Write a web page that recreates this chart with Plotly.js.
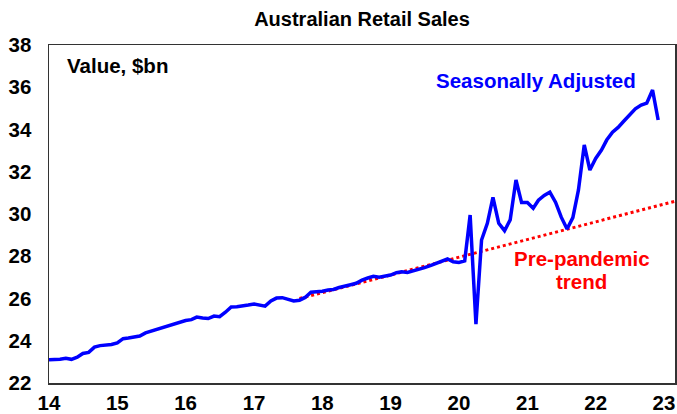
<!DOCTYPE html>
<html>
<head>
<meta charset="utf-8">
<script src="https://cdn.plot.ly/plotly-3.0.1.min.js"></script>
<style>
  html, body { margin: 0; padding: 0; background: #fff; }
  #chart { width: 677px; height: 414px; }
</style>
</head>
<body>
<div id="chart"></div>
<script>
// Monthly retail turnover, seasonally adjusted ($bn), Jan 2014 – Dec 2022
const startYear = 2014;
const salesSA = [
  23.1, 23.1, 23.12, 23.17, 23.12, 23.22, 23.4, 23.45, 23.7, 23.77, 23.78, 23.82,
  23.9, 24.1, 24.13, 24.16, 24.22, 24.37, 24.45, 24.56, 24.62, 24.72, 24.8, 24.9,
  24.96, 25.0, 25.12, 25.08, 25.05, 25.17, 25.14, 25.35, 25.6, 25.61, 25.64, 25.69,
  25.74, 25.67, 25.64, 25.88, 26.02, 26.04, 25.98, 25.88, 25.92, 26.05, 26.3, 26.31,
  26.34, 26.4, 26.43, 26.52, 26.6, 26.65, 26.72, 26.87, 26.97, 27.05, 27.01, 27.04,
  27.11, 27.22, 27.27, 27.23, 27.3, 27.38, 27.46, 27.56, 27.67, 27.75, 27.87, 27.74,
  27.71, 27.78, 29.95, 24.79, 28.77, 29.56, 30.79, 29.56, 29.21, 29.72, 31.61, 30.54,
  30.54, 30.27, 30.65, 30.88, 31.03, 30.55, 29.85, 29.29, 29.83, 31.14, 33.27, 32.08,
  32.63, 33.03, 33.5, 33.87, 34.1, 34.4, 34.7, 34.98, 35.16, 35.25, 35.87, 34.45
];
// Pre-pandemic trend line (end points)
const trendDates = ['2017-09-01', '2023-03-01'];
const trendValues = [26.0, 30.6];

const yTicks = [22, 24, 26, 28, 30, 32, 34, 36, 38];
const xTickYears = [2014, 2015, 2016, 2017, 2018, 2019, 2020, 2021, 2022, 2023];
const xTickLabels = ['14', '15', '16', '17', '18', '19', '20', '21', '22', '23'];

// month dates for the series
const months = salesSA.map(function (_, i) {
  const y = startYear + Math.floor(i / 12);
  const m = (i % 12) + 1;
  return y + '-' + (m < 10 ? '0' + m : m) + '-01';
});

const FONT = 'Liberation Sans, Arial, sans-serif';
const FS = 20.5;

const traces = [
  {
    x: trendDates, y: trendValues, type: 'scatter', mode: 'lines',
    line: { color: '#FF0000', width: 3, dash: 'dot' },
    hoverinfo: 'skip', showlegend: false
  },
  {
    x: months, y: salesSA, type: 'scatter', mode: 'lines',
    line: { color: '#0000FF', width: 3.5 },
    showlegend: false
  }
];

const layout = {
  width: 677, height: 414,
  margin: { l: 49, r: 2, t: 45, b: 31, pad: 0 },
  paper_bgcolor: '#ffffff', plot_bgcolor: '#ffffff',
  font: { family: FONT, color: '#000', size: FS },
  title: {
    text: '<b>Australian Retail Sales</b>',
    font: { family: FONT, size: 20, color: '#000' },
    x: 0.5, xref: 'paper', xanchor: 'center',
    y: 0.955, yref: 'container', yanchor: 'middle'
  },
  xaxis: {
    type: 'date',
    range: ['2014-01-01', '2023-03-01'],
    tickvals: xTickYears.map(function (y) { return y + '-01-01'; }),
    ticktext: xTickLabels.map(function (t) { return '<b>' + t + '</b>'; }),
    tickfont: { family: FONT, size: FS, color: '#000' },
    ticklabelstandoff: 1,
    showgrid: false, zeroline: false,
    showline: true, linecolor: '#333', linewidth: 1.5, mirror: true,
    ticks: '', ticklen: 0
  },
  yaxis: {
    range: [22, 38],
    tickvals: yTicks,
    ticktext: yTicks.map(function (t) { return '<b>' + t + '</b>'; }),
    tickfont: { family: FONT, size: FS, color: '#000' },
    ticklabelstandoff: 12,
    showgrid: false, zeroline: false,
    showline: true, linecolor: '#333', linewidth: 1.5, mirror: true,
    ticks: '', ticklen: 0
  },
  annotations: [
    {
      text: '<b>Value, $bn</b>', xref: 'paper', yref: 'paper',
      x: 0.0256, y: 0.938, xanchor: 'left', yanchor: 'middle', showarrow: false,
      font: { family: FONT, size: FS, color: '#000' }
    },
    {
      text: '<b>Seasonally Adjusted</b>', xref: 'paper', yref: 'paper',
      x: 0.778, y: 0.896, xanchor: 'center', yanchor: 'middle', showarrow: false,
      font: { family: FONT, size: FS, color: '#0000FF' }
    },
    {
      text: '<b>Pre-pandemic</b>', xref: 'paper', yref: 'paper',
      x: 0.851, y: 0.367, xanchor: 'center', yanchor: 'middle', showarrow: false,
      font: { family: FONT, size: FS, color: '#FF0000' }
    },
    {
      text: '<b>trend</b>', xref: 'paper', yref: 'paper',
      x: 0.851, y: 0.299, xanchor: 'center', yanchor: 'middle', showarrow: false,
      font: { family: FONT, size: FS, color: '#FF0000' }
    }
  ]
};

Plotly.newPlot('chart', traces, layout, { displayModeBar: false, staticPlot: true });
</script>
</body>
</html>
